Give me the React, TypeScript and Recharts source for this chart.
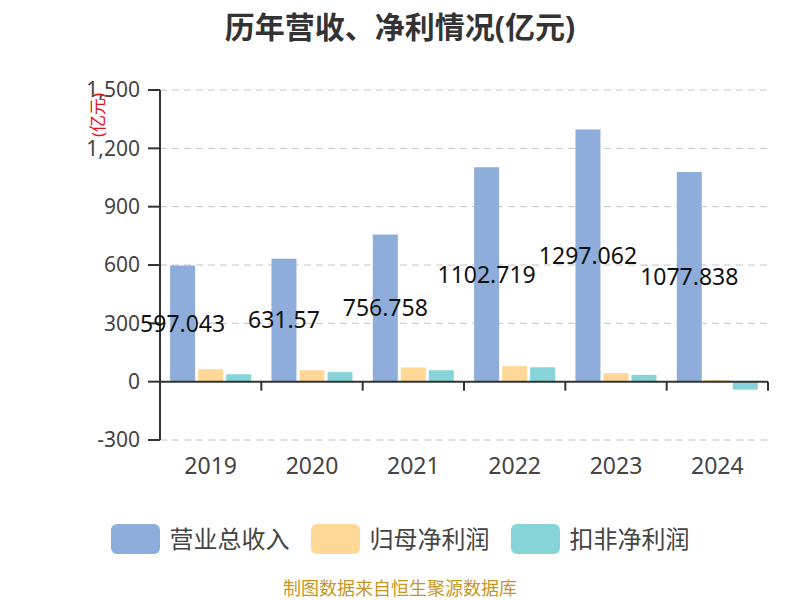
import React from 'react';
import {
  BarChart,
  Bar,
  XAxis,
  YAxis,
  CartesianGrid,
  ReferenceLine,
  LabelList,
} from 'recharts';

const years = ['2019', '2020', '2021', '2022', '2023', '2024'];
const revenue = [597.043, 631.57, 756.758, 1102.719, 1297.062, 1077.838];
const netProfit = [64, 59, 73, 80, 44, 9];
const deductedProfit = [38, 49, 59, 74, 35, -41];
const yTicks = [-300, 0, 300, 600, 900, 1200, 1500];

const seriesNames = ['营业总收入', '归母净利润', '扣非净利润'];
const seriesColors = ['#8eaddb', '#ffd897', '#86d4d8'];

const FONT = '"Noto Sans", "Noto Sans CJK SC", sans-serif';

const data = years.map((year, i) => ({
  year,
  revenue: revenue[i],
  netProfit: netProfit[i],
  deductedProfit: deductedProfit[i],
}));

// zero line with small tick marks between categories
const ZeroAxis = (props: any) => {
  const { x1, y1, x2 } = props;
  const n = years.length;
  const step = (x2 - x1) / n;
  const marks = [];
  for (let i = 1; i <= n; i++) {
    const x = x1 + step * i;
    marks.push(<line key={i} x1={x} x2={x} y1={y1} y2={y1 + 9} stroke="#333" strokeWidth={2} />);
  }
  return (
    <g>
      <line x1={x1} x2={x2} y1={y1} y2={y1} stroke="#333" strokeWidth={2} />
      {marks}
    </g>
  );
};

const UnitLabel = ({ viewBox }: any) => {
  const x = viewBox.x + 97;
  const y = viewBox.y + 25;
  return (
    <text
      x={x}
      y={y}
      transform={`rotate(-90, ${x}, ${y})`}
      textAnchor="middle"
      dominantBaseline="central"
      fill="#e8101a"
      fontSize={17}
      fontFamily={FONT}
    >
      (亿元)
    </text>
  );
};

export default function App() {
  return (
    <div style={{ position: 'absolute', left: 0, top: 0, width: 800, height: 600, background: '#fff', fontFamily: FONT }}>
      <div
        style={{
          position: 'absolute',
          top: 3,
          width: 800,
          textAlign: 'center',
          fontSize: 30,
          fontWeight: 'bold',
          color: '#333',
        }}
      >
        历年营收、净利情况(亿元)
      </div>
      <BarChart
        width={800}
        height={600}
        data={data}
        margin={{ top: 90, right: 32, bottom: 130, left: 0 }}
        barGap={3}
        barCategoryGap="10%"
      >
        <CartesianGrid vertical={false} stroke="#c4c4c4" strokeDasharray="7 5" />
        <XAxis
          dataKey="year"
          axisLine={false}
          tickLine={false}
          height={30}
          tickSize={6}
          tickMargin={12}
          tick={{ fontSize: 23, fill: '#444', fontFamily: FONT }}
        />
        <YAxis
          width={160}
          domain={[-300, 1500]}
          ticks={yTicks}
          interval={0}
          allowDataOverflow
          axisLine={{ stroke: '#333', strokeWidth: 2 }}
          tickLine={{ stroke: '#333', strokeWidth: 2 }}
          tickSize={12}
          tickMargin={8}
          tickFormatter={(v: number) => v.toLocaleString('en-US')}
          tick={{ fontSize: 21, fill: '#444', fontFamily: FONT }}
          label={<UnitLabel />}
        />
        <Bar dataKey="revenue" name={seriesNames[0]} fill={seriesColors[0]} isAnimationActive={false}>
          <LabelList
            dataKey="revenue"
            position="center"
            fill="#111"
            fontSize={23}
            fontFamily={FONT}
          />
        </Bar>
        <Bar dataKey="netProfit" name={seriesNames[1]} fill={seriesColors[1]} isAnimationActive={false} />
        <Bar dataKey="deductedProfit" name={seriesNames[2]} fill={seriesColors[2]} isAnimationActive={false} />
        <ReferenceLine y={0} shape={<ZeroAxis />} />
      </BarChart>
      <div
        style={{
          position: 'absolute',
          top: 524,
          left: 0,
          width: 800,
          display: 'flex',
          justifyContent: 'center',
          gap: 21,
          fontSize: 24,
          color: '#444',
        }}
      >
        {seriesNames.map((name, i) => (
          <div key={name} style={{ display: 'flex', alignItems: 'center', gap: 10 }}>
            <div style={{ width: 49, height: 30, borderRadius: 6, background: seriesColors[i] }} />
            <span style={{ lineHeight: '30px' }}>{name}</span>
          </div>
        ))}
      </div>
      <div
        style={{
          position: 'absolute',
          top: 576,
          width: 800,
          textAlign: 'center',
          fontSize: 18,
          lineHeight: '24px',
          color: '#c8961e',
        }}
      >
        制图数据来自恒生聚源数据库
      </div>
    </div>
  );
}
